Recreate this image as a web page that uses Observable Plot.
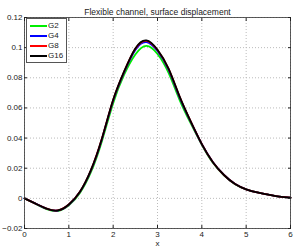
<!DOCTYPE html>
<html>
<head>
<meta charset="utf-8">
<script src="https://cdn.jsdelivr.net/npm/d3@7"></script>
<script src="https://cdn.jsdelivr.net/npm/@observablehq/plot@0.6"></script>
<style>
  html, body { margin: 0; padding: 0; background: #fff; }
  #wrap { position: relative; width: 295px; height: 250px; font-family: "Liberation Sans", Arial, sans-serif; }
  #legend { position: absolute; left: 26px; top: 18px; width: 41px; height: 45px; border: 1px solid #555; background: #fff; box-sizing: border-box; }
  .item { position: absolute; left: 0; height: 10px; font-size: 8px; line-height: 10px; color: #222; }
  .item .ln { position: absolute; left: 3px; top: 4px; width: 17px; height: 2px; }
  .item .tx { position: absolute; left: 21px; top: 0; white-space: nowrap; }
</style>
</head>
<body>
<div id="wrap"><div id="legend"></div></div>
<script>
const title = "Flexible channel, surface displacement";
const xLabel = "x";
const seriesNames = ["G2", "G4", "G8", "G16"];
const seriesColors = ["#00ee00", "#0000ff", "#ff0000", "#000000"];
const xs = [0, 0.25, 0.5, 0.75, 1.0, 1.25, 1.5, 1.75, 2.0, 2.25, 2.5, 2.75, 3.0, 3.25, 3.5, 3.75, 4.0, 4.25, 4.5, 4.75, 5.0, 5.25, 5.5, 5.75, 6.0];
const g2  = [0, -0.0036, -0.0071, -0.0084, -0.0046, 0.0036, 0.0175, 0.0383, 0.0632, 0.0822, 0.0955, 0.1012, 0.0958, 0.0832, 0.0652, 0.0497, 0.0356, 0.0236, 0.0153, 0.0094, 0.0060, 0.0039, 0.0025, 0.0012, 0.0005];
const g4  = [0, -0.0035, -0.0069, -0.0081, -0.0042, 0.0042, 0.0185, 0.0396, 0.0648, 0.0838, 0.0985, 0.1037, 0.0978, 0.0853, 0.0668, 0.0507, 0.0359, 0.0240, 0.0155, 0.0095, 0.0060, 0.0039, 0.0025, 0.0012, 0.0005];
const g8  = [0, -0.0035, -0.0068, -0.0080, -0.0041, 0.0044, 0.0188, 0.0400, 0.0652, 0.0842, 0.0992, 0.1045, 0.0984, 0.0859, 0.0674, 0.0510, 0.0360, 0.0240, 0.0155, 0.0095, 0.0060, 0.0039, 0.0025, 0.0012, 0.0005];
const g16 = [0, -0.0035, -0.0068, -0.0080, -0.0041, 0.0044, 0.0189, 0.0401, 0.0654, 0.0844, 0.0995, 0.1048, 0.0986, 0.0861, 0.0675, 0.0510, 0.0360, 0.0240, 0.0155, 0.0095, 0.0060, 0.0039, 0.0025, 0.0012, 0.0005];
const xTicks = [0, 1, 2, 3, 4, 5, 6];
const yTicks = [-0.02, 0, 0.02, 0.04, 0.06, 0.08, 0.1, 0.12];

const seriesValues = [g2, g4, g8, g16];
const data = [];
seriesNames.forEach((name, i) => xs.forEach((x, j) => data.push({series: name, x, y: seriesValues[i][j]})));

const yFmt = d => d === 0 ? "0" : (d < 0 ? "\u2212" : "") + String(+Math.abs(d).toFixed(2));
const font = "Liberation Sans, Arial, sans-serif";

const chart = Plot.plot({
  width: 295,
  height: 250,
  marginLeft: 24,
  marginRight: 5,
  marginTop: 17,
  marginBottom: 22,
  style: {fontFamily: font, fontSize: "8px", color: "#222", background: "#fff"},
  x: {domain: [0, 6]},
  y: {domain: [-0.02, 0.12]},
  color: {domain: seriesNames, range: seriesColors},
  marks: [
    Plot.gridX(xTicks, {stroke: "#bbb", strokeOpacity: 1, strokeDasharray: "1,2"}),
    Plot.gridY(yTicks, {stroke: "#bbb", strokeOpacity: 1, strokeDasharray: "1,2"}),
    Plot.line(data, {x: "x", y: "y", z: "series", stroke: "series", strokeWidth: 1.8, curve: "natural"}),
    Plot.frame({stroke: "#333", strokeWidth: 0.8}),
    Plot.axisX(xTicks, {anchor: "bottom", tickSize: -3, tickPadding: 6, label: null, tickFormat: d => String(d)}),
    Plot.axisX(xTicks, {anchor: "top", tickSize: -3, label: null, tickFormat: () => ""}),
    Plot.axisY(yTicks, {anchor: "left", tickSize: -3, tickPadding: 5, label: null, tickFormat: yFmt}),
    Plot.axisY(yTicks, {anchor: "right", tickSize: -3, label: null, tickFormat: () => ""}),
    Plot.text([title], {frameAnchor: "top", dy: -9, fontSize: 8.5, fill: "#222"}),
    Plot.text([xLabel], {frameAnchor: "bottom", dy: 17, fontSize: 8, fill: "#222"})
  ]
});
document.getElementById("wrap").prepend(chart);

const legend = document.getElementById("legend");
seriesNames.forEach((name, i) => {
  const it = document.createElement("div");
  it.className = "item";
  it.style.top = (1.5 + i * 10.2) + "px";
  it.style.width = "100%";
  const ln = document.createElement("div");
  ln.className = "ln";
  ln.style.background = seriesColors[i];
  const tx = document.createElement("div");
  tx.className = "tx";
  tx.textContent = name;
  it.appendChild(ln); it.appendChild(tx);
  legend.appendChild(it);
});
</script>
</body>
</html>
